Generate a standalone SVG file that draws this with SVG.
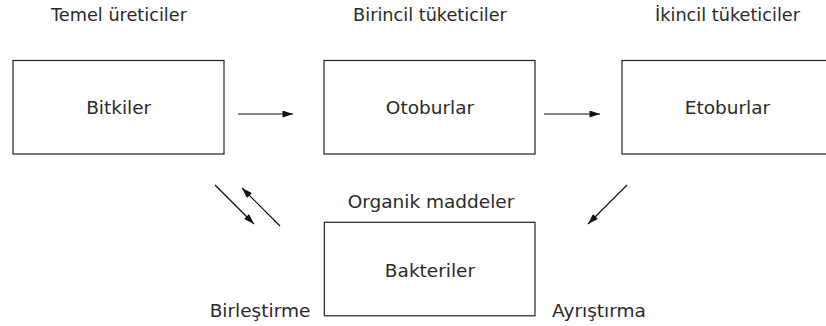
<svg xmlns="http://www.w3.org/2000/svg" width="826" height="326" viewBox="0 0 826 326">
<style>
text{font-family:"DejaVu Sans","Liberation Sans",sans-serif;font-size:18.5px;fill:#2a2a2a;text-anchor:middle}
.top{font-size:17.7px}
.box{fill:#fff;stroke:#222;stroke-width:1.2}
.c{stroke:#111;stroke-width:1.2;fill:none;marker-end:url(#ah)}
</style>
<defs>
<marker id="ah" viewBox="0 0 12 8" refX="12" refY="4" markerWidth="12" markerHeight="7" markerUnits="userSpaceOnUse" orient="auto">
<path d="M0,0 L12,4 L0,8 Z" fill="#111"/>
</marker>
</defs>
<rect width="826" height="326" fill="#fff"/>
<g id="labels">
<text class="top" x="119" y="21">Temel üreticiler</text>
<text class="top" x="430" y="21">Birincil tüketiciler</text>
<text class="top" x="727.5" y="21">İkincil tüketiciler</text>
<text x="431" y="208">Organik maddeler</text>
<text x="260" y="316.5">Birleştirme</text>
<text x="599" y="316.5">Ayrıştırma</text>
</g>
<g id="bitkiler">
<rect class="box" x="13" y="60.5" width="211" height="93.5"/>
<text x="118.7" y="114">Bitkiler</text>
</g>
<g id="otoburlar">
<rect class="box" x="324" y="60.5" width="211" height="93.5"/>
<text x="430" y="114">Otoburlar</text>
</g>
<g id="etoburlar">
<rect class="box" x="622" y="60.5" width="220" height="93.5"/>
<text x="727.5" y="114">Etoburlar</text>
</g>
<g id="bakteriler">
<rect class="box" x="324.3" y="222.3" width="210.7" height="93.5"/>
<text x="430" y="277">Bakteriler</text>
</g>
<g id="connectors">
<line class="c" x1="238" y1="114" x2="293" y2="114"/>
<line class="c" x1="544" y1="114" x2="600" y2="114"/>
<line class="c" x1="215" y1="185" x2="254" y2="224"/>
<line class="c" x1="280" y1="226" x2="242" y2="188"/>
<line class="c" x1="627" y1="185" x2="588" y2="224"/>
</g>
</svg>
